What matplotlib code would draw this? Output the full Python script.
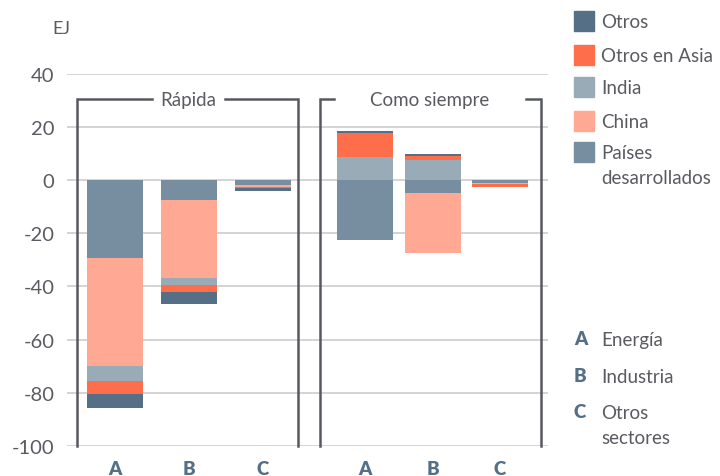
import numpy as np
import matplotlib.pyplot as plt
from matplotlib.patches import Rectangle

plt.rcParams['font.family'] = ['Lato', 'DejaVu Sans']
plt.rcParams['axes.unicode_minus'] = False

series = ['Países desarrollados', 'China', 'India', 'Otros en Asia', 'Otros']
legend_names = ['Otros', 'Otros en Asia', 'India', 'China', 'Países\ndesarrollados']
colors = {'Países desarrollados': '#778da0', 'China': '#ffa893', 'India': '#9aabb8',
          'Otros en Asia': '#ff6e4a', 'Otros': '#546f86'}

groups = ['Rápida', 'Como siempre']
sectors = ['A', 'B', 'C']
sector_names = ['Energía', 'Industria', 'Otros\nsectores']

# EJ, per bar: Rápida A, B, C then Como siempre A, B, C
pd_vals = [-29.3, -7.5, -1.9, -22.4, -5.1, -1.0]
china = [-40.5, -29.3, -0.8, 0.0, -22.5, -0.7]
india = [-5.6, -2.6, 0.0, 8.8, 7.5, 0.0]
otros_asia = [-5.2, -2.6, -0.4, 9.0, 1.5, -0.8]
otros = [-5.3, -4.5, -1.1, 0.6, 0.7, 0.0]
data = {'Países desarrollados': pd_vals, 'China': china, 'India': india,
        'Otros en Asia': otros_asia, 'Otros': otros}

# layout in pixel units of the plot area
xpos = [48, 122, 196, 298, 366, 433]
width = 56

text_c = '#5a5b60'
line_c = '#58595e'
letter_c = '#546f86'

fig = plt.figure(figsize=(7.2, 4.77), dpi=100)
ax = fig.add_axes([67 / 720, 1 - 447 / 477, (548 - 67) / 720, (447 - 74.5) / 477])
ax.set_xlim(0, 481)
ax.set_ylim(-100, 40)

for y in range(-100, 41, 20):
    ax.axhline(y, color='#c9c9c9', lw=1.1, zorder=0)

for i, x in enumerate(xpos):
    pos = 0.0
    neg = 0.0
    for s in series:
        v = data[s][i]
        if v >= 0:
            ax.bar(x, v, width, bottom=pos, color=colors[s], zorder=2)
            pos += v
        else:
            ax.bar(x, v, width, bottom=neg, color=colors[s], zorder=2)
            neg += v

# brackets
top = 30.4
for (x0, x1), g, gap in zip([(10, 231), (253, 474)], groups, [(85, 158), (267, 459)]):
    ax.plot([x0, x0, gap[0]], [-100, top, top], color=line_c, lw=1.8, clip_on=False,
            solid_joinstyle='miter', zorder=3)
    ax.plot([gap[1], x1, x1], [top, top, -100], color=line_c, lw=1.8, clip_on=False,
            solid_joinstyle='miter', zorder=3)
    ax.text((gap[0] + gap[1]) / 2, top, g, ha='center', va='center', fontsize=13.5,
            color=text_c)

ax.set_yticks(range(-100, 41, 20))
ax.tick_params(axis='y', length=0, pad=9, labelsize=14.5, labelcolor=text_c)
ax.set_xticks(xpos)
ax.set_xticklabels(sectors * 2, fontsize=13.5, fontweight='heavy', color=letter_c)
ax.tick_params(axis='x', length=0, pad=10)
for sp in ax.spines.values():
    sp.set_visible(False)

fig.text(52 / 720, 1 - 29 / 477, 'EJ', fontsize=13, color=text_c, va='center')

# legend
rows = [22, 56, 88, 122, 153]
for name, yc in zip(legend_names, rows):
    key = 'Países desarrollados' if name.startswith('Países') else name
    fig.patches.append(Rectangle((574 / 720, 1 - (yc + 10) / 477), 20 / 720, 20 / 477,
                                 transform=fig.transFigure, color=colors[key]))
    fig.text(601 / 720, 1 - (yc - 8) / 477, name, fontsize=13.5, color=text_c,
             va='top', linespacing=1.6)

for letter, name, yc in zip(sectors, sector_names, [340, 377, 413]):
    fig.text(574 / 720, 1 - yc / 477, letter, fontsize=13.5, fontweight='heavy',
             color=letter_c, va='center')
    fig.text(601 / 720, 1 - (yc - 8) / 477, name, fontsize=13.5, color=text_c,
             va='top', linespacing=1.55)

fig.savefig('out.png', dpi=100)
